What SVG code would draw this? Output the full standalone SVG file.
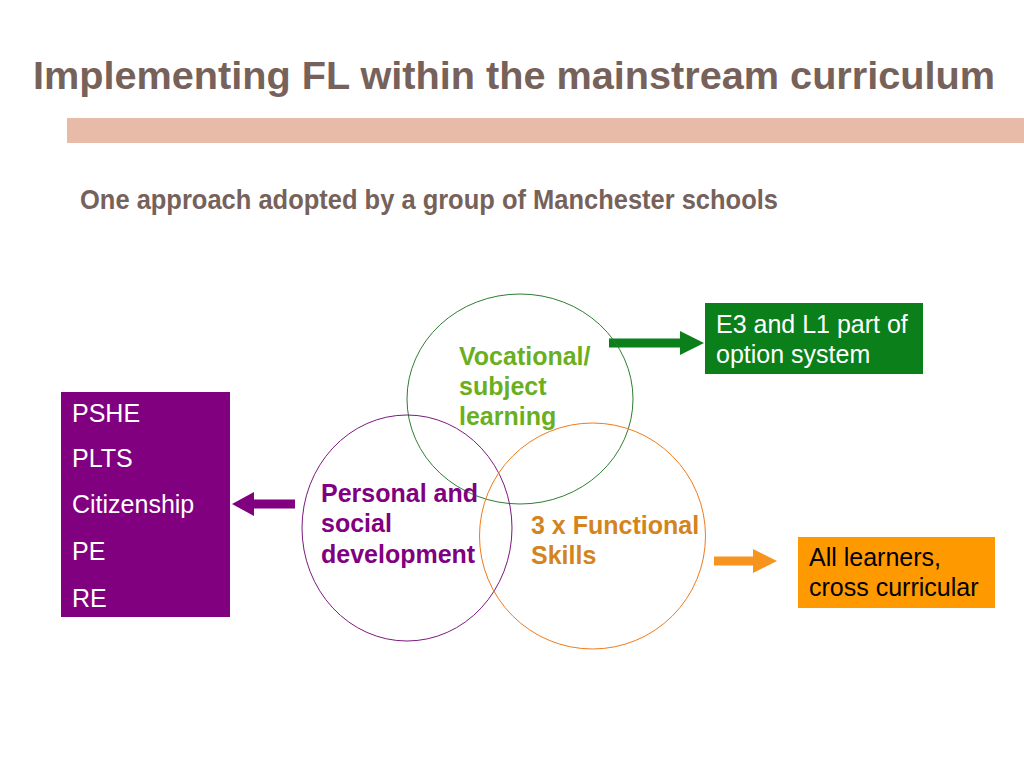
<svg xmlns="http://www.w3.org/2000/svg" width="1024" height="768" viewBox="0 0 1024 768">
<style>
.t{font-family:"Liberation Sans",Arial,sans-serif}
.b{font-weight:bold}
.lbl{font-family:"Liberation Sans",Arial,sans-serif;font-weight:bold;font-size:25px}
.box{font-family:"Liberation Sans",Arial,sans-serif;font-size:25px}
</style>
<rect width="1024" height="768" fill="#ffffff"/>
<text x="33" y="89" class="t b" font-size="39.5" fill="#76625A" textLength="962" lengthAdjust="spacingAndGlyphs">Implementing FL within the mainstream curriculum</text>
<rect x="67" y="118" width="957" height="25" fill="#E8BAA8"/>
<text x="80" y="209" class="t b" font-size="27" fill="#76625A" textLength="698" lengthAdjust="spacingAndGlyphs">One approach adopted by a group of Manchester schools</text>

<g id="connectors">
<polygon points="609,338.5 680,338.5 680,331 704,343 680,355 680,347.5 609,347.5" fill="#0A7F1A"/>
<polygon points="295,499.5 254,499.5 254,492 232,504 254,516 254,508.5 295,508.5" fill="#800080"/>
<polygon points="714,556.5 753,556.5 753,549 777,561 753,573 753,565.5 714,565.5" fill="#F7941D"/>
</g>

<g id="circle-vocational">
<ellipse cx="520" cy="399" rx="113" ry="105" fill="none" stroke="#2E7D32" stroke-width="1"/>
<text class="lbl" fill="#6AAF1E"><tspan x="459" y="365">Vocational/</tspan><tspan x="459" y="395">subject</tspan><tspan x="459" y="425">learning</tspan></text>
</g>
<g id="circle-personal">
<ellipse cx="407" cy="528" rx="105" ry="113" fill="none" stroke="#7B1A7B" stroke-width="1"/>
<text class="lbl" fill="#800080"><tspan x="321" y="502">Personal and</tspan><tspan x="321" y="532">social</tspan><tspan x="321" y="563">development</tspan></text>
</g>
<g id="circle-functional">
<ellipse cx="592.5" cy="536" rx="113" ry="113" fill="none" stroke="#F07A1A" stroke-width="1"/>
<text class="lbl" fill="#D4841C"><tspan x="531" y="534">3 x Functional</tspan><tspan x="531" y="564">Skills</tspan></text>
</g>

<g id="box-option">
<rect x="705" y="303" width="218" height="71" fill="#0A7F1A"/>
<text class="box" fill="#ffffff"><tspan x="716" y="333">E3 and L1 part of</tspan><tspan x="716" y="363">option system</tspan></text>
</g>
<g id="box-learners">
<rect x="798" y="537" width="197" height="71" fill="#FF9900"/>
<text class="box" fill="#000000"><tspan x="809" y="566">All learners,</tspan><tspan x="809" y="596">cross curricular</tspan></text>
</g>
<g id="box-pshe">
<rect x="61" y="392" width="169" height="225" fill="#800080"/>
<text class="box" fill="#ffffff"><tspan x="72" y="422">PSHE</tspan><tspan x="72" y="467">PLTS</tspan><tspan x="72" y="513">Citizenship</tspan><tspan x="72" y="560">PE</tspan><tspan x="72" y="607">RE</tspan></text>
</g>
</svg>
